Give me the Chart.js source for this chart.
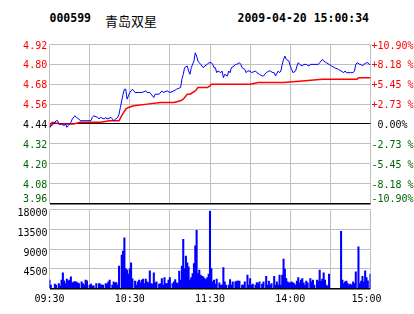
<!DOCTYPE html>
<html><head><meta charset="utf-8">
<script src="https://cdn.jsdelivr.net/npm/chart.js@4"></script>
<style>
html,body{margin:0;padding:0;background:#fff;}
body{width:414px;height:314px;overflow:hidden;position:relative;}
canvas{position:absolute;left:0;top:0;}
.hd{position:absolute;top:11px;line-height:1;white-space:pre;color:#000;}
.mono{font:bold 11.5px "DejaVu Sans Mono";}
.cjk{font:13px "Noto Sans CJK SC";}
</style></head><body>
<div class="hd mono" style="left:49.5px">000599</div>
<div class="hd cjk" style="left:105px">青岛双星</div>
<div class="hd mono" style="left:237.5px">2009-04-20 15:00:34</div>
<canvas id="pc" width="414" height="314"></canvas>
<canvas id="vc" width="414" height="314"></canvas>
<script>
const prevClose = 4.44;
const priceTicks = [3.96,4.08,4.20,4.32,4.44,4.56,4.68,4.80,4.92];
const priceTickLabels = ['3.96','4.08','4.20','4.32','4.44','4.56','4.68','4.80','4.92'];
const pctTickLabels = ['-10.90%','-8.18 %','-5.45 %','-2.73 %',' 0.00%','+2.73 %','+5.45 %','+8.18 %','+10.90%'];
const volTicks = [0,4500,9000,13500,18000];
const volTickLabels = ['','4500','9000','13500','18000'];
const gridMinutes = [0,30,60,90,120,150,180,210,240];
const timeTickMinutes = [0,60,120,180,240];
const timeTickLabels = ['09:30','10:30','11:30','14:00','15:00'];

const priceMinutes = [0,3,5,6,7,9,11,12,13,14,16,17,19,20,22,23,26,28,31,32,33,36,37,38,41,42,43,46,48,51,52,53,54,55,56,57,58,59,60,62,63,64,67,69,72,73,75,78,79,82,84,85,88,90,93,95,98,99,100,101,103,104,105,106,108,109,110,111,113,115,116,118,119,121,122,123,124,125,126,128,129,130,131,133,134,135,136,138,139,140,142,143,144,146,147,148,150,151,154,155,157,159,160,162,164,165,167,168,169,171,172,173,174,175,176,177,179,180,181,182,184,185,186,187,189,190,192,194,195,197,200,201,202,204,205,207,209,211,213,216,218,220,221,222,225,227,228,229,230,232,233,234,235,237,238,239,240];
const priceValues = [4.42,4.44,4.46,4.46,4.44,4.44,4.43,4.44,4.42,4.43,4.45,4.47,4.49,4.48,4.47,4.46,4.46,4.46,4.46,4.48,4.49,4.48,4.47,4.48,4.47,4.48,4.47,4.48,4.46,4.48,4.50,4.54,4.58,4.62,4.65,4.65,4.59,4.61,4.63,4.65,4.64,4.63,4.63,4.63,4.64,4.63,4.63,4.60,4.62,4.62,4.64,4.63,4.64,4.63,4.64,4.65,4.66,4.71,4.74,4.78,4.79,4.76,4.74,4.78,4.82,4.87,4.85,4.82,4.80,4.78,4.79,4.80,4.81,4.81,4.80,4.78,4.78,4.75,4.76,4.75,4.76,4.72,4.74,4.73,4.76,4.75,4.78,4.79,4.80,4.80,4.81,4.80,4.78,4.77,4.75,4.76,4.76,4.75,4.76,4.75,4.74,4.73,4.73,4.75,4.76,4.76,4.75,4.75,4.73,4.76,4.75,4.76,4.80,4.83,4.85,4.83,4.82,4.79,4.77,4.75,4.76,4.79,4.81,4.80,4.79,4.80,4.80,4.79,4.80,4.80,4.80,4.80,4.81,4.83,4.82,4.81,4.80,4.79,4.78,4.77,4.76,4.75,4.76,4.75,4.75,4.75,4.76,4.80,4.81,4.80,4.80,4.79,4.80,4.81,4.81,4.80,4.80];

const avgMinutes = [0,2,8,18,23,38,45,52,54,57,59,63,73,83,93,98,100,103,105,109,111,118,120,121,135,150,156,175,189,204,230,231,240];
const avgValues = [4.42,4.45,4.44,4.44,4.45,4.45,4.46,4.46,4.49,4.53,4.54,4.55,4.56,4.57,4.57,4.58,4.59,4.62,4.62,4.64,4.66,4.66,4.67,4.68,4.68,4.68,4.69,4.69,4.70,4.71,4.71,4.72,4.72];

const volMinutes = [0,1,4,5,7,8,9,10,11,12,13,14,15,16,17,18,19,20,21,22,24,25,26,27,28,30,31,32,33,35,37,38,39,40,42,43,44,45,47,48,49,50,51,52,54,55,56,57,58,59,60,61,62,64,65,66,67,68,69,70,71,72,73,74,75,76,77,78,79,80,82,83,84,85,86,87,88,89,90,92,93,94,95,96,97,98,99,100,101,102,103,104,105,106,107,108,109,110,111,112,113,114,115,116,117,118,119,120,121,122,123,124,125,127,128,129,130,131,132,134,135,136,137,139,140,141,142,144,145,146,148,149,150,151,152,154,155,156,157,159,160,162,163,164,165,166,168,169,170,171,172,173,174,175,176,177,178,179,180,181,182,183,184,185,186,187,188,189,190,191,192,193,195,196,197,198,200,201,202,203,204,205,206,207,208,209,218,219,220,221,222,223,224,225,226,227,228,229,231,232,233,234,235,236,237,238,240];
const volValues = [1900,760,990,760,1140,530,1900,3570,1750,1140,2125,1750,1900,2660,1290,1520,1520,1520,1290,1140,1520,1140,760,1900,1750,760,990,610,610,1140,1140,990,760,760,1140,990,1520,1900,760,1520,1290,1370,760,5090,7590,8500,11540,4550,4170,3260,4550,5840,2200,1670,760,1520,1900,1290,1900,2125,1140,2125,1520,1290,4020,1140,990,3570,1290,1520,990,1140,2280,760,2500,1140,1140,1900,2500,1140,1520,2050,1290,1140,3950,1900,5090,11230,4550,7360,5840,4930,1900,2500,3415,5690,9710,13280,3415,4170,3040,2800,2660,2280,2050,2500,3260,17600,4550,1520,1900,990,2125,1290,760,760,4780,1520,760,760,2050,760,1520,1520,1670,1670,1670,760,760,1520,3040,760,2280,760,990,760,1370,1140,1520,990,1520,2800,760,1670,760,1140,2800,760,1520,760,3040,760,3040,6680,4400,2280,1520,1290,1290,1520,1290,1140,760,1670,2500,1290,1900,2280,1290,760,1670,1290,2280,1520,1900,760,1900,1670,4170,1670,2125,3570,1900,760,530,3260,13050,1900,1140,1520,1670,1140,760,990,760,1520,1140,3800,9490,1140,1670,2800,1520,4020,2500,1750,3260];

const RED = '#ff0000', GREEN = '#006600', GRID = '#c0c0c0', BLUE = '#0000ff';
const FONT = '10px "DejaVu Sans Mono"';

function baseScales(yMin, yMax, yTicks, darkVals) {
  return {
    x: {
      type: 'linear', min: 0, max: 240, offset: false,
      afterBuildTicks: s => { s.ticks = gridMinutes.map(v => ({value: v})); },
      afterFit: s => { s.height = 0; },
      ticks: {display: false},
      grid: {color: GRID, lineWidth: 1, drawTicks: false, offset: false},
      border: {display: false}
    },
    y: {
      type: 'linear', min: yMin, max: yMax,
      afterBuildTicks: s => { s.ticks = yTicks.map(v => ({value: v})); },
      afterFit: s => { s.width = 0; },
      ticks: {display: false},
      grid: {
        drawTicks: false,
        color: c => darkVals.includes(c.tick.value) ? '#000' : GRID,
        lineWidth: c => darkVals.includes(c.tick.value) ? (c.tick.value === yMin ? 1.5 : 1) : 1
      },
      border: {display: false}
    }
  };
}

const pricePlugin = {
  id: 'priceLabels',
  afterDraw(chart) {
    const ctx = chart.ctx, y = chart.scales.y, area = chart.chartArea;
    ctx.save();
    ctx.font = FONT;
    ctx.textBaseline = 'alphabetic';
    priceTicks.forEach((v, i) => {
      const py = y.getPixelForValue(v);
      let base = py + 4;
      if (base > area.bottom - 1.5) base = area.bottom - 1.5;
      ctx.fillStyle = v > prevClose ? RED : (v < prevClose ? GREEN : '#000');
      ctx.textAlign = 'right';
      ctx.fillText(priceTickLabels[i], area.left - 2.3, base);
      ctx.textAlign = 'left';
      ctx.fillText(pctTickLabels[i], area.right + 1, base);
    });
    ctx.restore();
  }
};

const volPlugin = {
  id: 'volLabels',
  afterDraw(chart) {
    const ctx = chart.ctx, y = chart.scales.y, x = chart.scales.x, area = chart.chartArea;
    ctx.save();
    ctx.font = FONT;
    ctx.fillStyle = '#000';
    ctx.textBaseline = 'alphabetic';
    ctx.textAlign = 'right';
    volTicks.forEach((v, i) => {
      if (!volTickLabels[i]) return;
      ctx.fillText(volTickLabels[i], area.left - 2, y.getPixelForValue(v) + 6.5);
    });
    ctx.textAlign = 'center';
    timeTickMinutes.forEach((m, i) => {
      let px = x.getPixelForValue(m);
      if (i === timeTickMinutes.length - 1) px -= 4;
      ctx.fillText(timeTickLabels[i], px, 302);
    });
    ctx.restore();
  }
};

const common = {
  responsive: false, animation: false, events: [],
  plugins: {legend: {display: false}, tooltip: {enabled: false}}
};

new Chart(document.getElementById('pc'), {
  type: 'line',
  data: {
    datasets: [
      {data: priceMinutes.map((m, i) => ({x: m, y: priceValues[i]})), borderColor: BLUE, borderWidth: 1, pointRadius: 0, tension: 0, fill: false},
      {data: avgMinutes.map((m, i) => ({x: m, y: avgValues[i]})), borderColor: RED, borderWidth: 1.5, pointRadius: 0, tension: 0, fill: false}
    ]
  },
  options: Object.assign({}, common, {
    layout: {padding: {left: 49.5, right: 43.5, top: 44.5, bottom: 110.5}},
    scales: baseScales(3.96, 4.92, priceTicks, [3.96, prevClose])
  }),
  plugins: [pricePlugin]
});

new Chart(document.getElementById('vc'), {
  type: 'bar',
  data: {
    datasets: [
      {data: volMinutes.map((m, i) => ({x: m, y: volValues[i]})), backgroundColor: BLUE, borderWidth: 0, barThickness: 1.4}
    ]
  },
  options: Object.assign({}, common, {
    layout: {padding: {left: 49.5, right: 43.5, top: 209.5, bottom: 25.5}},
    scales: baseScales(0, 18000, volTicks, [0])
  }),
  plugins: [volPlugin]
});
</script>
</body></html>
